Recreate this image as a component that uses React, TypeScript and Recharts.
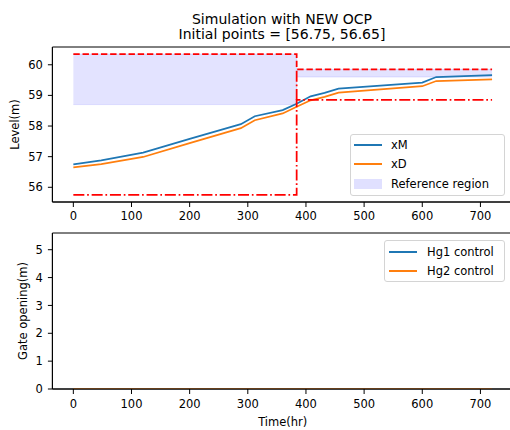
import React from 'react';
import {
  ComposedChart, Line, Area, XAxis, YAxis, ReferenceLine, ReferenceArea, Legend, Label
} from 'recharts';

// simulated levels (hours, metres)
const timeHr = [0, 48, 120, 200, 288, 312, 360, 384, 408, 432, 456, 600, 624, 720];
const xM = [56.75, 56.88, 57.13, 57.58, 58.06, 58.32, 58.52, 58.73, 58.97, 59.08, 59.22, 59.42, 59.6, 59.66];
const xD = [56.65, 56.76, 56.99, 57.44, 57.93, 58.19, 58.41, 58.63, 58.84, 58.95, 59.09, 59.3, 59.47, 59.52];

// bounds + reference region (step at 384 hr)
const boundTime = [0, 384, 384, 720];
const upperBound = [60.35, 60.35, 59.85, 59.85];
const lowerBound = [55.75, 55.75, 58.85, 58.85];
const refLow = [58.7, 58.7, 59.6, 59.6];
const refHigh = [60.35, 60.35, 59.85, 59.85];
const switchTime = 384;

// gate controls
const controlTime = [0, 720];
const hg1Control = [0, 0];
const hg2Control = [0, 0];

const timeTicks = [0, 100, 200, 300, 400, 500, 600, 700];
const levelTicks = [56, 57, 58, 59, 60];
const gateTicks = [0, 1, 2, 3, 4, 5];

const FONT = '"DejaVu Sans", sans-serif';
const BLUE = '#1f77b4';
const ORANGE = '#ff7f0e';
const RED = '#ff0000';
const tickStyle = { fill: '#000', fontSize: 11.5, fontFamily: FONT };

const levelData = timeHr.map((t, i) => ({ t, xM: xM[i], xD: xD[i] }));
const boundData = boundTime.map((t, i) => ({
  t, upper: upperBound[i], lower: lowerBound[i], ref: [refLow[i], refHigh[i]]
}));
const controlData = controlTime.map((t, i) => ({ t, hg1: hg1Control[i], hg2: hg2Control[i] }));

type Item = { label: string; color: string; kind: 'line' | 'patch' };

const LegendBox = ({ items, handleX, textX, rowY }: { items: Item[]; handleX: number; textX: number; rowY: number[] }) => (
  <div style={{
    position: 'relative', width: '100%', height: '100%', boxSizing: 'border-box',
    border: '1px solid #d4d4d4', borderRadius: 3, background: 'rgba(255,255,255,0.8)',
    fontFamily: FONT, fontSize: 11.5, color: '#000'
  }}>
    {items.map((it, i) => (
      <React.Fragment key={it.label}>
        {it.kind === 'line' ? (
          <div style={{ position: 'absolute', left: handleX, top: rowY[i] - 1, width: 28, height: 2, background: it.color }} />
        ) : (
          <div style={{ position: 'absolute', left: handleX, top: rowY[i] - 5, width: 28, height: 10, background: it.color }} />
        )}
        <div style={{ position: 'absolute', left: textX, top: rowY[i] - 8, lineHeight: '16px', whiteSpace: 'nowrap' }}>
          {it.label}
        </div>
      </React.Fragment>
    ))}
  </div>
);

const App: React.FC = () => {
  return (
    <div style={{ position: 'fixed', left: 0, top: 0, width: 510, height: 430, overflow: 'hidden', background: '#fff' }}>
      <svg width={510} height={50} style={{ position: 'absolute', left: 0, top: 0 }}>
        <text x={282} y={24} textAnchor="middle" fontFamily={FONT} fontSize={14} fill="#000">Simulation with NEW OCP</text>
        <text x={282} y={39} textAnchor="middle" fontFamily={FONT} fontSize={14} fill="#000">Initial points = [56.75, 56.65]</text>
      </svg>

      <div style={{ position: 'absolute', left: 0, top: 0 }}>
        <ComposedChart width={530} height={230} margin={{ top: 47, right: 17, left: 0, bottom: 0 }}>
          <XAxis type="number" dataKey="t" domain={[-36, 756]} ticks={timeTicks} allowDataOverflow
            height={28} tickSize={5} tickMargin={5} tick={tickStyle} stroke="#000" />
          <YAxis type="number" domain={[55.52, 60.58]} ticks={levelTicks} allowDataOverflow
            width={52.4} tickSize={4.5} tickMargin={5} tick={tickStyle} stroke="#000">
            <Label value="Level(m)" angle={-90} position="center" dx={-11}
              style={{ fill: '#000', fontSize: 11.5, fontFamily: FONT }} />
          </YAxis>
          <ReferenceArea x1={-36} x2={756} y1={55.52} y2={60.58} fill="none" stroke="#000" strokeWidth={1} />
          <Area data={boundData} dataKey="ref" type="linear" fill="#0000ff" fillOpacity={0.11}
            stroke="#0000ff" strokeOpacity={0.1} isAnimationActive={false} />
          <Line data={levelData} dataKey="xM" type="linear" stroke={BLUE} strokeWidth={1.75} dot={false} isAnimationActive={false} />
          <Line data={levelData} dataKey="xD" type="linear" stroke={ORANGE} strokeWidth={1.75} dot={false} isAnimationActive={false} />
          <Line data={boundData} dataKey="upper" type="linear" stroke={RED} strokeWidth={1.75}
            strokeDasharray="6.4 2.8" dot={false} isAnimationActive={false} />
          <Line data={boundData} dataKey="lower" type="linear" stroke={RED} strokeWidth={1.75}
            strokeDasharray="11 2.8 1.7 2.8" dot={false} isAnimationActive={false} />
          <ReferenceLine segment={[{ x: switchTime, y: 58.85 }, { x: switchTime, y: 59.85 }]}
            stroke={RED} strokeWidth={1.75} strokeDasharray="11 2.8 1.7 2.8" />
          <Legend layout="vertical" align="center" verticalAlign="middle"
            wrapperStyle={{ left: 350, top: 134, width: 155, height: 62 }}
            content={() => (
              <LegendBox handleX={3} textX={40} rowY={[10, 29, 49]} items={[
                { label: 'xM', color: BLUE, kind: 'line' },
                { label: 'xD', color: ORANGE, kind: 'line' },
                { label: 'Reference region', color: 'rgba(0,0,255,0.12)', kind: 'patch' }
              ]} />
            )} />
        </ComposedChart>
      </div>

      <div style={{ position: 'absolute', left: 0, top: 220 }}>
        <ComposedChart width={530} height={210} margin={{ top: 13, right: 17, left: 0, bottom: 0 }}>
          <XAxis type="number" dataKey="t" domain={[-36, 756]} ticks={timeTicks} allowDataOverflow
            height={41} tickSize={5} tickMargin={6} tick={tickStyle} stroke="#000">
            <Label value="Time(hr)" position="center" dy={12}
              style={{ fill: '#000', fontSize: 11.5, fontFamily: FONT }} />
          </XAxis>
          <YAxis type="number" domain={[0, 5.6]} ticks={gateTicks} allowDataOverflow
            width={52.4} tickSize={4.5} tickMargin={5} tick={tickStyle} stroke="#000">
            <Label value="Gate opening(m)" angle={-90} position="center" dx={-3.5}
              style={{ fill: '#000', fontSize: 11.5, fontFamily: FONT }} />
          </YAxis>
          <ReferenceArea x1={-36} x2={756} y1={0} y2={5.6} fill="none" stroke="#000" strokeWidth={1} />
          <Line data={controlData} dataKey="hg1" type="linear" stroke={BLUE} strokeWidth={1.75} dot={false} isAnimationActive={false} />
          <Line data={controlData} dataKey="hg2" type="linear" stroke={ORANGE} strokeWidth={1.75} dot={false} isAnimationActive={false} />
          <Legend layout="vertical" align="center" verticalAlign="middle"
            wrapperStyle={{ left: 384, top: 20, width: 121, height: 42 }}
            content={() => (
              <LegendBox handleX={4} textX={42} rowY={[11, 30]} items={[
                { label: 'Hg1 control', color: BLUE, kind: 'line' },
                { label: 'Hg2 control', color: ORANGE, kind: 'line' }
              ]} />
            )} />
        </ComposedChart>
      </div>
    </div>
  );
};

export default App;
